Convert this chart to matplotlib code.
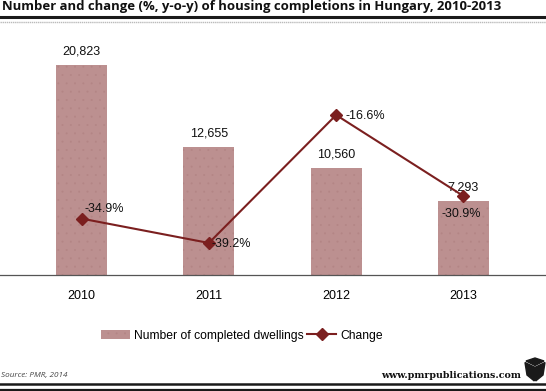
import numpy as np
import matplotlib
matplotlib.use('Agg')
import matplotlib.pyplot as plt
from matplotlib.lines import Line2D
from matplotlib.patches import Patch, Polygon

years = ['2010', '2011', '2012', '2013']
dwellings = [20823, 12655, 10560, 7293]
dwelling_labels = ['20,823', '12,655', '10,560', '7,293']
change = [-34.9, -39.2, -16.6, -30.9]
change_labels = ['-34.9%', '-39.2%', '-16.6%', '-30.9%']

W, H = 546, 391
BAR = '#bc9090'
LINE = '#7b1f1f'

plt.rcParams['font.family'] = ['Liberation Sans', 'DejaVu Sans']
plt.rcParams['hatch.linewidth'] = 0.2

fig = plt.figure(figsize=(W/100, H/100), dpi=100)

# Plot area in pixels: x 18-527, y 40-274.5
ax = fig.add_axes([18/W, (H-274.5)/H, 509/W, 234.5/H])
x = np.arange(4)
ax.bar(x, dwellings, width=0.4, color=BAR, hatch='..', edgecolor='#b38585', linewidth=0)
ax.set_xlim(-0.5, 3.5)
ax.set_ylim(0, 23310)
ax.set_xticks(x)
ax.set_xticklabels(years, fontsize=9)
ax.set_yticks([])
ax.tick_params(axis='x', length=0, pad=11)
for s in ['top', 'left', 'right', 'bottom']:
    ax.spines[s].set_visible(False)
for i in range(4):
    ax.annotate(dwelling_labels[i], (x[i], dwellings[i]), xytext=(0, 5.5), textcoords='offset points',
                ha='center', va='bottom', fontsize=9, color='#111111')

ax2 = ax.twinx()
ax2.plot(x, change, color=LINE, lw=1.5, marker='D', ms=6, mec=LINE, mfc=LINE)
ax2.set_ylim(-44.77, -3.35)
ax2.set_yticks([])
for s in ['top', 'left', 'right', 'bottom']:
    ax2.spines[s].set_visible(False)
offsets = [(2, 2.5), (2, -5), (7, -1), (-16, -17)]
for i in range(4):
    ax2.annotate(change_labels[i], (x[i], change[i]), xytext=offsets[i], textcoords='offset points',
                 ha='left', va='center' if i == 2 else 'bottom', fontsize=9, color='#111111')

# Full width baseline
fig.add_artist(Line2D([0, 1], [(H-274.5)/H]*2, color='#555555', lw=0.9))

# Legend
handles = [Patch(facecolor=BAR, hatch='..', edgecolor='#b38585', linewidth=0),
           Line2D([], [], color=LINE, lw=1.5, marker='D', ms=6, mfc=LINE, mec=LINE)]
fig.legend(handles, ['Number of completed dwellings', 'Change'], loc='center',
           bbox_to_anchor=(242/W, (H-335.5)/H), ncol=2, frameon=False, fontsize=8.7,
           handlelength=2.4, handletextpad=0.35, columnspacing=0.3, borderpad=0)

# Title and rules
fig.text(2/W, (H-6.5)/H, 'Number and change (%, y-o-y) of housing completions in Hungary, 2010-2013',
         family=['Open Sans', 'DejaVu Sans'], fontsize=9.45, fontweight='bold', va='center', color='#111111')
fig.add_artist(Line2D([0, 1], [(H-17)/H]*2, color='#1a1a1a', lw=2.2))
fig.add_artist(Line2D([0, 1], [(H-21.5)/H]*2, color='#bbbbbb', lw=1, ls=(0, (1, 0.5))))

# Footer
fig.text(1/W, (H-375)/H, 'Source: PMR, 2014', family=['Open Sans', 'DejaVu Sans'], fontsize=5.9,
         style='italic', va='center', color='#444444')
fig.text(521/W, (H-375)/H, 'www.pmrpublications.com', family=['DejaVu Serif'], fontsize=6.85,
         fontweight='bold', ha='right', va='center', color='#111111')
fig.add_artist(Line2D([0, 1], [(H-384)/H]*2, color='#1a1a1a', lw=1.8))
fig.add_artist(Line2D([0, 1], [(H-389.5)/H]*2, color='#1a1a1a', lw=1.6))

# Logo cube
def px(points):
    return [(a/W, (H-b)/H) for a, b in points]

fig.add_artist(Polygon(px([(535, 358), (526, 361), (535, 365.5), (544, 361)]), color='#1a1a1a', transform=fig.transFigure))
fig.add_artist(Polygon(px([(525, 362.5), (534.3, 367), (534.3, 381), (527, 375)]), color='#1a1a1a', transform=fig.transFigure))
fig.add_artist(Polygon(px([(545, 362.5), (535.7, 367), (535.7, 381), (543, 375)]), color='#1a1a1a', transform=fig.transFigure))

fig.savefig('out.png', dpi=100)
